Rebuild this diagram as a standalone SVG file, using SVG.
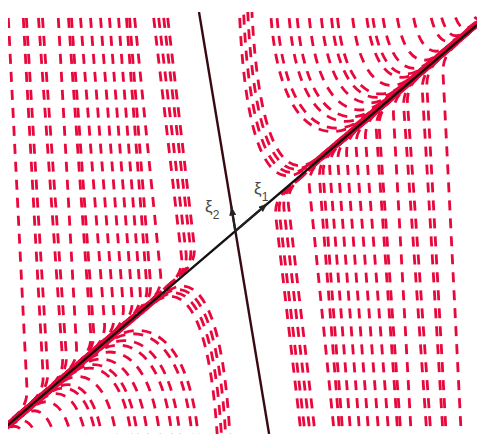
<svg xmlns="http://www.w3.org/2000/svg" xmlns:xlink="http://www.w3.org/1999/xlink" width="477" height="434" viewBox="0 0 477 434">
<style>
.traj{fill:none;stroke:#e8083c;stroke-width:2.8;stroke-dasharray:10 8}
.axis{fill:none;stroke-width:2.4}
.lbl{font-family:"Liberation Sans",Arial,sans-serif;font-size:17px;fill:#484848}
</style>
<defs>
<clipPath id="plot"><rect x="8" y="12" width="469" height="422"/></clipPath>
<marker id="ah" markerUnits="userSpaceOnUse" markerWidth="10" markerHeight="8" refX="9" refY="3.5" orient="auto"><path d="M0,0 L9,3.5 L0,7 z" fill="#222"/></marker>
</defs>
<rect width="477" height="434" fill="#fff"/>
<g clip-path="url(#plot)">
<g id="trajectories">
<g id="regionL">
<path class="traj" d="M7.4,0 L27,389.1 Q27.8,405.1 15.6,415.5 L-10,438.8"/>
<path class="traj" d="M22.3,0 L43.1,375.3 Q44,391.3 31.8,401.7 L-10,438.8"/>
<path class="traj" d="M25.3,0 L47.7,371.2 Q48.7,387.2 36.5,397.6 L-10,438.8"/>
<path class="traj" d="M37.2,0 L62.5,358.6 Q63.6,374.6 51.4,385 L-10,438.8"/>
<path class="traj" d="M41.2,0 L66.3,355.3 Q67.4,371.3 55.2,381.7 L-10,438.8"/>
<path class="traj" d="M57.3,0 L76.5,346.7 Q77.4,362.7 65.2,373.1 L-10,438.8"/>
<path class="traj" d="M67.2,0 L90.8,334.4 Q91.9,350.4 79.7,360.8 L-10,438.8"/>
<path class="traj" d="M70.2,0 L93.7,331.9 Q94.8,347.9 82.6,358.3 L-10,438.8"/>
<path class="traj" d="M79.1,0 L104.5,322.6 Q105.7,338.6 93.5,349 L-10,438.8"/>
<path class="traj" d="M89.1,0 L113.9,314.6 Q115.1,330.6 102.9,341 L-10,438.8"/>
<path class="traj" d="M99.1,0 L123.3,306.6 Q124.5,322.6 112.3,333 L-10,438.8"/>
<path class="traj" d="M108,0 L132.1,299 Q133.4,315 121.2,325.4 L-10,438.8"/>
<path class="traj" d="M117.1,0 L140.2,292.2 Q141.4,308.2 129.2,318.6 L-10,438.8"/>
<path class="traj" d="M125.1,0 L146.8,286.5 Q148,302.5 135.8,312.9 L-10,438.8"/>
<path class="traj" d="M128.1,0 L150.5,283.4 Q151.7,299.4 139.5,309.8 L-10,438.8"/>
<path class="traj" d="M132.8,0 L160.6,274.5 Q162.2,290.5 150,300.9 L-10,438.8"/>
<path class="traj" d="M151.6,0 L181.5,256.5 Q183.3,272.5 171.1,282.9 L-10,438.8"/>
<path class="traj" d="M156.6,0 L186,252.6 Q187.8,268.6 175.6,279 L-10,438.8"/>
<path class="traj" d="M161.6,0 L190.6,248.7 Q192.4,264.7 180.2,275.1 L-10,438.8"/>
<path class="traj" d="M165.6,0 L194.2,245.5 Q196,261.5 183.8,271.9 L-10,438.8"/>
</g>
<g id="regionT">
<path id="t0" class="traj" d="M239,0 C245,185 283.2,187.5 306,167.8 L520,-13.3"/>
<use xlink:href="#t0" href="#t0" transform="translate(4,-3.4)"/>
<use xlink:href="#t0" href="#t0" transform="translate(8,-6.8)"/>
<use xlink:href="#t0" href="#t0" transform="translate(12,-10.2)"/>
<path class="traj" d="M270,0 C276,145.1 335.7,141.4 358.7,121.8 L520,-13.3"/>
<path class="traj" d="M276,0 C282,141.4 340,137.8 362.4,118.7 L520,-13.3"/>
<path class="traj" d="M288,0 C294,134 348.7,130.4 369.9,112.3 L520,-13.3"/>
<path class="traj" d="M296,0 C302,129.1 354.4,125.5 374.9,108 L520,-13.3"/>
<path class="traj" d="M308,0 C314,121.8 363.1,118.1 382.4,101.6 L520,-13.3"/>
<path class="traj" d="M320,0 C326,114.3 371.8,110.6 389.9,95.2 L520,-13.3"/>
<path class="traj" d="M330,0 C336,108.2 379,104.5 396.1,89.9 L520,-13.3"/>
<path class="traj" d="M336,0 C342,104.5 383.3,100.8 399.9,86.7 L520,-13.3"/>
<path class="traj" d="M351,0 C357,95.3 394.2,91.6 409.3,78.7 L520,-13.3"/>
<path class="traj" d="M365,0 C371,86.8 404.2,82.9 418,71.2 L520,-13.3"/>
<path class="traj" d="M371,0 C377,83 408.5,79.3 421.7,68.1 L520,-13.3"/>
<path class="traj" d="M381,0 C387,76.9 415.8,73.1 428,62.7 L520,-13.3"/>
<path class="traj" d="M395,0 C401,68.3 426,64.4 436.8,55.2 L520,-13.3"/>
<path class="traj" d="M411,0 C417,58.5 437.4,54.7 446.7,46.8 L520,-13.3"/>
<path class="traj" d="M428,0 C434,48 449.7,44.2 457.3,37.7 L520,-13.3"/>
<path class="traj" d="M438,0 C444,41.9 457,37.9 463.6,32.3 L520,-13.3"/>
<path class="traj" d="M451,0 C457,33.9 466.3,30 471.7,25.4 L520,-13.3"/>
<path class="traj" d="M468,0 C474,23.5 478.6,19.6 482.3,16.4 L520,-13.3"/>
</g>
<use id="regionR" xlink:href="#regionL" href="#regionL" transform="rotate(180 235 231)"/>
<use id="regionB" xlink:href="#regionT" href="#regionT" transform="rotate(180 235 231)"/>
</g>
<g id="eigenlines">
<path class="axis" stroke="#141010" d="M0,431.8 L477,24.9"/>
<path class="axis" stroke="#3a0812" d="M199,12 L269.1,434"/>
</g>
</g>
<g id="vectors">
<path fill="none" stroke="#222" stroke-width="2" d="M235,231.3 L267.5,203.6" marker-end="url(#ah)"/>
<path fill="none" stroke="#222" stroke-width="2" d="M235.3,231 L231.3,206.5" marker-end="url(#ah)"/>
</g>
<g id="labels">
<text class="lbl" x="254" y="194">ξ<tspan font-size="12" dy="7">1</tspan></text>
<text class="lbl" x="205" y="212">ξ<tspan font-size="12" dy="7">2</tspan></text>
</g>
</svg>
